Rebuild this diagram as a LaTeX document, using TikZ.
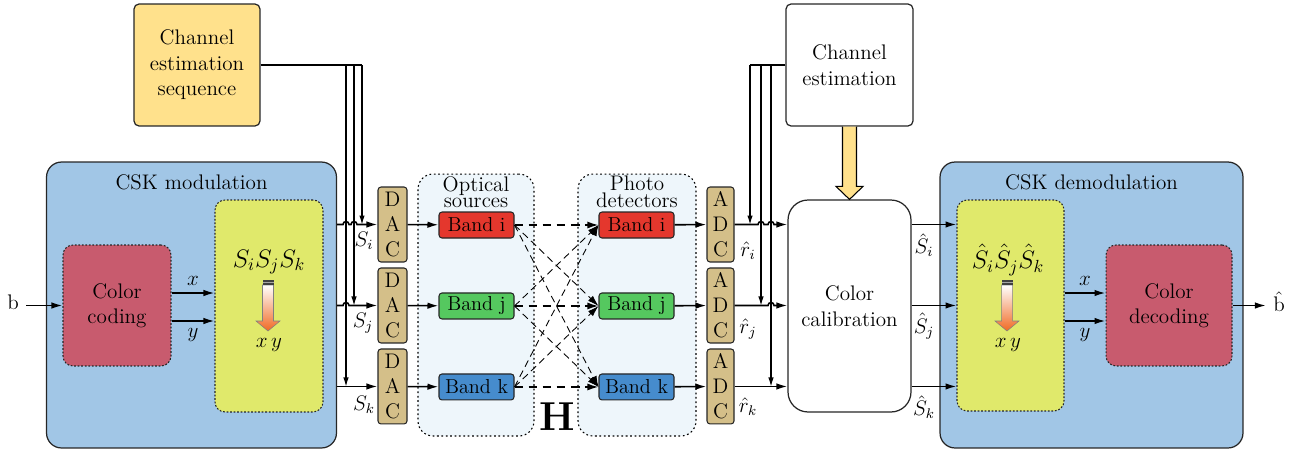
\documentclass[12pt,tikz,border=0pt]{standalone}
\usepackage{fontspec}
\usetikzlibrary{arrows.meta,calc,positioning}

\definecolor{panelblue}{RGB}{161,198,230}
\definecolor{mapyellow}{RGB}{224,233,107}
\definecolor{codered}{RGB}{200,91,110}
\definecolor{convtan}{RGB}{212,191,137}
\definecolor{seqyellow}{RGB}{255,225,140}
\definecolor{bandred}{RGB}{228,55,45}
\definecolor{bandgreen}{RGB}{85,200,95}
\definecolor{bandblue}{RGB}{70,140,205}
\definecolor{zonefill}{RGB}{238,246,251}
\definecolor{gradorange}{RGB}{240,105,35}

\tikzstyle{arrow} = [line width=0.9pt,-{Latex[length=2.2mm,width=1.3mm]}]
\tikzstyle{feed} = [line width=0.6pt,-{Latex[length=1.8mm,width=1.1mm]}]
\tikzstyle{wire} = [line width=0.6pt]
\tikzstyle{link} = [line width=0.9pt,dash pattern=on 5pt off 3pt,-{Latex[length=2.2mm,width=1.4mm]}]
\tikzstyle{crosslink} = [line width=0.5pt,dash pattern=on 4pt off 2.5pt,-{Latex[length=2.2mm,width=1.4mm]}]
\tikzstyle{panel} = [
        rectangle,
        rounded corners=0.3cm,
        draw=black!85,
        line width=0.7pt,
        fill=panelblue
    ]
\tikzstyle{stage} = [
        rectangle,
        rounded corners=0.2cm,
        draw=black!85,
        line width=0.6pt,
        dash pattern=on 1pt off 1pt,
        align=center
    ]
\tikzstyle{zone} = [
        rectangle,
        rounded corners=0.3cm,
        draw=black,
        line width=0.6pt,
        dash pattern=on 1pt off 1.5pt,
        fill=zonefill
    ]
\tikzstyle{block} = [
        rectangle,
        rounded corners=0.1cm,
        draw=black!85,
        line width=0.7pt,
        align=center
    ]
\tikzstyle{conv} = [
        rectangle,
        rounded corners=0.06cm,
        draw=black!85,
        line width=0.6pt,
        fill=convtan,
        minimum width=0.58cm,
        minimum height=1.5cm,
        inner sep=0pt,
        align=center,
        font=\fontsize{12}{14.2}\selectfont
    ]
\tikzstyle{band} = [
        rectangle,
        rounded corners=0.06cm,
        draw=black!85,
        line width=0.6pt,
        minimum width=1.5cm,
        minimum height=0.52cm,
        inner sep=0pt,
        font=\fontsize{11.5}{13}\selectfont
    ]

\begin{document}
\begin{tikzpicture}[x=0.02cm,y=-0.02cm,node distance=1.62cm]
        \useasboundingbox (0,0) rectangle (1297,453);

        % big panels
        \node (modbox) [%
            panel,%
            minimum width=5.8cm,%
            minimum height=5.72cm,%
            label={[anchor=north,yshift=-0.12cm]north:CSK modulation}%
            ] at (191.5,305) {};

        \node (demodbox) [%
            panel,%
            minimum width=6.06cm,%
            minimum height=5.72cm,%
            label={[anchor=north,yshift=-0.12cm]north:CSK demodulation}%
            ] at (1091.5,305) {};

        \node (coder) [%
            stage,%
            fill=codered,%
            minimum width=2.16cm,%
            minimum height=2.42cm%
            ] at (117,305.5) {Color\\coding};

        \node (mapmod) [%
            stage,%
            fill=mapyellow,%
            minimum width=2.16cm,%
            minimum height=4.24cm%
            ] at (269,306) {};

        \node (mapdemod) [%
            stage,%
            fill=mapyellow,%
            minimum width=2.14cm,%
            minimum height=4.22cm%
            ] at (1010.5,305.5) {};

        \node (decoder) [%
            stage,%
            fill=codered,%
            minimum width=2.52cm,%
            minimum height=2.42cm%
            ] at (1169,305.5) {Color\\decoding};

        % mapping inside the yellow boxes
        \node (symmod) at (269,262) {\large $S_iS_jS_k$};
        \node (xymod) at (269,345) {$x\,y$};
        \node (symdemod) at (1008,260) {\large $\hat{S}_i\hat{S}_j\hat{S}_k$};
        \node (xydemod) at (1008,345) {$x\,y$};
        \foreach \gx in {268,1007} {
            \shadedraw [top color=white, bottom color=gradorange, draw=black!50, line width=0.3pt]
                (\gx-5.5,285) -- (\gx+5.5,285) -- (\gx+5.5,321) -- (\gx+12,321)
                -- (\gx,331) -- (\gx-12,321) -- (\gx-5.5,321) -- cycle;
            \fill [black!75] (\gx-5.5,280) rectangle (\gx+5.5,285);
            \fill [black!35] (\gx-5.5,282) rectangle (\gx+5.5,283);
        }

        % channel estimation
        \node (seq) [%
            block,%
            fill=seqyellow,%
            minimum width=2.52cm,%
            minimum height=2.44cm%
            ] at (197,65) {Channel\\estimation\\sequence};

        \node (est) [%
            block,%
            fill=white,%
            minimum width=2.54cm,%
            minimum height=2.44cm%
            ] at (849.5,65) {Channel\\estimation};

        \node (calib) [%
            block,%
            rounded corners=0.4cm,%
            fill=white,%
            minimum width=2.46cm,%
            minimum height=4.24cm%
            ] at (849.5,306) {Color\\calibration};

        % optical channel
        \node (srcbox) [%
            zone,%
            minimum width=2.32cm,%
            minimum height=5.24cm,%
            label={[anchor=north,inner sep=0pt,yshift=-0.05cm,align=center,font=\fontsize{12}{9.5}\selectfont]north:Optical\\sources}%
            ] at (476,305) {};

        \node (detbox) [%
            zone,%
            minimum width=2.36cm,%
            minimum height=5.24cm,%
            label={[anchor=north,inner sep=0pt,yshift=-0.05cm,align=center,font=\fontsize{12}{9.5}\selectfont]north:Photo\\detectors}%
            ] at (637,305) {};

        \node (chan) at (557,417) {\fontsize{23}{24}\selectfont\bfseries H};

        \node (daci) [conv] at (392.5,224.5) {D\\A\\C};
        \node (dacj) [conv, below of=daci] {D\\A\\C};
        \node (dack) [conv, below of=dacj] {D\\A\\C};

        \node (srci) [band, fill=bandred] at (476.5,225) {Band i};
        \node (srcj) [band, fill=bandgreen, below of=srci] {Band j};
        \node (srck) [band, fill=bandblue, below of=srcj] {Band k};

        \node (deti) [band, fill=bandred] at (636.5,225) {Band i};
        \node (detj) [band, fill=bandgreen, below of=deti] {Band j};
        \node (detk) [band, fill=bandblue, below of=detj] {Band k};

        \node (adci) [conv, minimum width=0.54cm] at (720.5,224.5) {A\\D\\C};
        \node (adcj) [conv, minimum width=0.54cm, below of=adci] {A\\D\\C};
        \node (adck) [conv, minimum width=0.54cm, below of=adcj] {A\\D\\C};

        % input and output
        \node (bin) at (13,302) {b};
        \node (bout) at (1279,302) {$\hat{\textrm{b}}$};
        \draw [arrow] (bin.east |- coder) -- (coder);
        \draw [arrow] (decoder) -- (decoder -| bout.west);

        \draw [arrow] ($(coder.east)+(0,0.25cm)$) -- ($(coder.east -| mapmod.west)+(0,0.25cm)$)
            node (xm) [midway, above] {$x$};
        \draw [arrow] ($(coder.east)+(0,-0.31cm)$) -- ($(coder.east -| mapmod.west)+(0,-0.31cm)$)
            node (ym) [midway, below] {$y$};
        \draw [arrow] ($(mapdemod.east)+(0,0.25cm)$) -- ($(mapdemod.east -| decoder.west)+(0,0.25cm)$)
            node (xd) [midway, above] {$x$};
        \draw [arrow] ($(mapdemod.east)+(0,-0.31cm)$) -- ($(mapdemod.east -| decoder.west)+(0,-0.31cm)$)
            node (yd) [midway, below] {$y$};

        % training sequence taps
        \coordinate (tapi) at (362,65);
        \coordinate (tapj) at (354,65);
        \coordinate (tapk) at (346,65);
        \draw [wire] (seq.east) -- (tapi);
        \draw [feed] (tapi) -- (tapi |- daci);
        \draw [feed] (tapj) -- (tapj |- dacj);
        \draw [feed] (tapk) -- (tapk |- dack);

        \draw [arrow] (modbox.east |- daci)
            -- ($(tapk |- daci)+(-0.06cm,0)$) arc[start angle=180,end angle=0,radius=0.06cm]
            -- ($(tapj |- daci)+(-0.06cm,0)$) arc[start angle=180,end angle=0,radius=0.06cm]
            -- (daci.west);
        \draw [arrow] (modbox.east |- dacj)
            -- ($(tapk |- dacj)+(-0.06cm,0)$) arc[start angle=180,end angle=0,radius=0.06cm]
            -- (dacj.west);
        \draw [arrow] (modbox.east |- dack) -- (dack.west);

        \node (lsi) at (364,241) {$S_i$};
        \node (lsj) at (363,323) {$S_j$};
        \node (lsk) at (364,405) {$S_k$};

        % optical links
        \foreach \s in {i,j,k} {
            \draw [arrow] (dac\s) -- (src\s);
            \draw [link] (src\s) -- (det\s);
            \draw [arrow] (det\s) -- (adc\s);
        }
        \foreach \s/\t in {i/j,i/k,j/i,j/k,k/i,k/j}
            \draw [crosslink] (src\s.east) -- (det\t.west);

        % estimation taps at the receiver
        \coordinate (tapri) at (750,65);
        \coordinate (taprj) at (761,65);
        \coordinate (taprk) at (771,65);
        \draw [wire] (est.west) -- (tapri);
        \draw [feed] (tapri) -- (tapri |- adci);
        \draw [feed] (taprj) -- (taprj |- adcj);
        \draw [feed] (taprk) -- (taprk |- adck);

        \draw [arrow] (adci.east)
            -- ($(taprj |- adci)+(-0.06cm,0)$) arc[start angle=180,end angle=0,radius=0.06cm]
            -- ($(taprk |- adci)+(-0.06cm,0)$) arc[start angle=180,end angle=0,radius=0.06cm]
            -- (calib.west |- adci);
        \draw [arrow] (adcj.east)
            -- ($(taprk |- adcj)+(-0.06cm,0)$) arc[start angle=180,end angle=0,radius=0.06cm]
            -- (calib.west |- adcj);
        \draw [arrow] (adck.east) -- (calib.west |- adck);

        \node (lri) at (748,251) {$\hat{r}_i$};
        \node (lrj) at (748,329) {$\hat{r}_j$};
        \node (lrk) at (748,407) {$\hat{r}_k$};

        % channel matrix to calibration
        \draw [line width=0.6pt, fill=seqyellow]
            ($(est.south)+(-0.14cm,0)$) -- ($(calib.north)+(-0.14cm,0.26cm)$)
            -- ($(calib.north)+(-0.27cm,0.26cm)$) -- (calib.north)
            -- ($(calib.north)+(0.27cm,0.26cm)$) -- ($(calib.north)+(0.14cm,0.26cm)$)
            -- ($(est.south)+(0.14cm,0)$);

        \foreach \s in {i,j,k}
            \draw [arrow] (calib.east |- adc\s) -- (mapdemod.west |- adc\s);

        \node (lshi) at (924,245) {$\hat{S}_i$};
        \node (lshj) at (924,326) {$\hat{S}_j$};
        \node (lshk) at (924,407) {$\hat{S}_k$};

    \end{tikzpicture}
\end{document}
